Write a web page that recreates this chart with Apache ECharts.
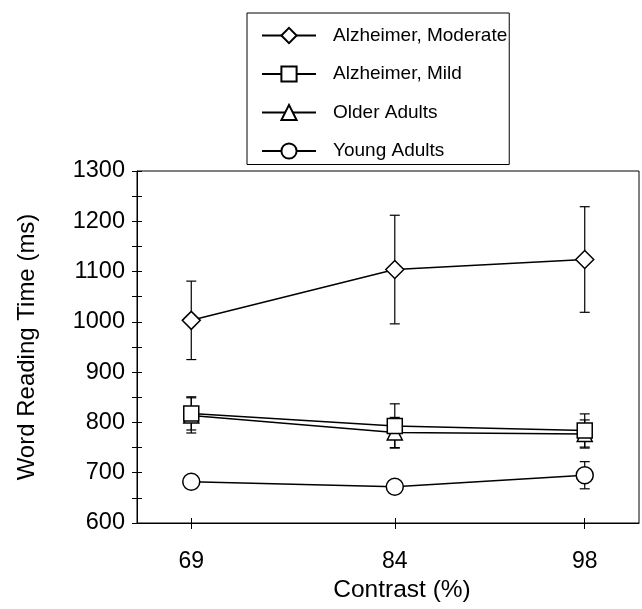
<!DOCTYPE html>
<html>
<head>
<meta charset="utf-8">
<script src="https://cdn.jsdelivr.net/npm/echarts@6/dist/echarts.min.js"></script>
<style>
  html, body { margin: 0; padding: 0; background: #fff; }
  #chart { width: 642px; height: 609px; }
</style>
</head>
<body>
<div id="chart"></div>
<script>
  // contrast levels on the x axis
  const contrast = [69, 84, 98]

  // mean word reading time (ms) and error (+/-) per group
  const moderate = [1003, 1104, 1124]
  const moderateErr = [78, 108, 105]
  const mild = [818, 793, 784]
  const mildErr = [33, 44, 33]
  const older = [814, 780, 777]
  const olderErr = [35, 30, 28]
  const young = [682, 672, 695]
  const youngErr = [12, 10, 27]

  const groupNames = ['Alzheimer, Moderate', 'Alzheimer, Mild', 'Older Adults', 'Young Adults']

  const font = 'Liberation Sans, Arial, sans-serif'

  const pairs = vals => contrast.map((c, i) => [c, vals[i]])
  const bars = (vals, errs) => contrast.map((c, i) => [c, vals[i] - errs[i], vals[i] + errs[i]])

  const lineSeries = (name, vals, symbol, size) => ({
    name: name,
    type: 'line',
    data: pairs(vals),
    symbol: symbol,
    symbolSize: size,
    z: 3,
    lineStyle: { color: '#000', width: 1.5 },
    itemStyle: { color: '#fff', borderColor: '#000', borderWidth: 1.5 }
  })

  const errSeries = (vals, errs) => ({
    type: 'custom',
    data: bars(vals, errs),
    z: 1,
    silent: true,
    renderItem: (params, api) => {
      const top = api.coord([api.value(0), api.value(2)])
      const bot = api.coord([api.value(0), api.value(1)])
      const w = 5
      const st = { stroke: '#000', lineWidth: 1.2 }
      return {
        type: 'group',
        children: [
          { type: 'line', shape: { x1: top[0], y1: top[1], x2: bot[0], y2: bot[1] }, style: st },
          { type: 'line', shape: { x1: top[0] - w, y1: top[1], x2: top[0] + w, y2: top[1] }, style: st },
          { type: 'line', shape: { x1: bot[0] - w, y1: bot[1], x2: bot[0] + w, y2: bot[1] }, style: st }
        ]
      }
    }
  })

  const chart = echarts.init(document.getElementById('chart'))

  const tickStyle = { color: '#000', width: 1 }

  const option = {
    animation: false,
    backgroundColor: '#fff',
    legend: {
      data: groupNames,
      orient: 'vertical',
      left: 247,
      top: 13,
      padding: [13, 2, 4, 14],
      itemWidth: 54,
      itemHeight: 19,
      itemGap: 19.5,
      borderColor: '#000',
      borderWidth: 1,
      backgroundColor: '#fff',
      textStyle: { fontFamily: font, fontSize: 19, color: '#000', padding: [0, 0, 0, 12] }
    },
    grid: {
      left: 137,
      top: 171,
      right: 3,
      bottom: 86,
      outerBoundsMode: 'none',
      show: true,
      borderColor: '#000',
      borderWidth: 1
    },
    xAxis: [
      {
        type: 'value',
        min: 65,
        max: 102,
        name: 'Contrast (%)',
        nameLocation: 'middle',
        nameGap: 55,
        nameTextStyle: { fontFamily: font, fontSize: 24.5, color: '#000', padding: [0, 0, 0, 28] },
        axisLine: { lineStyle: { color: '#000', width: 1 } },
        axisTick: { customValues: contrast, length: 6, lineStyle: tickStyle },
        axisLabel: { customValues: contrast, margin: 27, fontFamily: font, fontSize: 23, color: '#000' },
        splitLine: { show: false }
      },
      {
        // inner half of the crossing ticks
        type: 'value',
        position: 'bottom',
        min: 65,
        max: 102,
        axisLine: { show: false },
        axisTick: { customValues: contrast, inside: true, length: 5, lineStyle: tickStyle },
        axisLabel: { show: false },
        splitLine: { show: false }
      }
    ],
    yAxis: [
      {
        type: 'value',
        min: 600,
        max: 1300,
        interval: 100,
        name: 'Word Reading Time (ms)',
        nameLocation: 'middle',
        nameGap: 98,
        nameTextStyle: { fontFamily: font, fontSize: 24, color: '#000' },
        axisLine: { lineStyle: { color: '#000', width: 1 } },
        axisTick: { length: 5, lineStyle: tickStyle },
        minorTick: { show: true, splitNumber: 2, length: 5, lineStyle: tickStyle },
        axisLabel: { margin: 12, fontFamily: font, fontSize: 23.5, color: '#000', formatter: v => String(v) },
        splitLine: { show: false }
      },
      {
        // inner half of the crossing ticks
        type: 'value',
        position: 'left',
        offset: 0,
        min: 600,
        max: 1300,
        interval: 100,
        axisLine: { show: false },
        axisTick: { inside: true, length: 5, lineStyle: tickStyle },
        minorTick: { show: true, splitNumber: 2, length: 5, lineStyle: tickStyle },
        axisLabel: { show: false },
        splitLine: { show: false }
      }
    ],
    series: [
      errSeries(moderate, moderateErr),
      errSeries(older, olderErr),
      errSeries(mild, mildErr),
      errSeries(young, youngErr),
      lineSeries(groupNames[0], moderate, 'diamond', 18),
      lineSeries(groupNames[2], older, 'triangle', 15),
      lineSeries(groupNames[1], mild, 'rect', 15),
      lineSeries(groupNames[3], young, 'circle', 17)
    ]
  }

  chart.setOption(option)
</script>
</body>
</html>
